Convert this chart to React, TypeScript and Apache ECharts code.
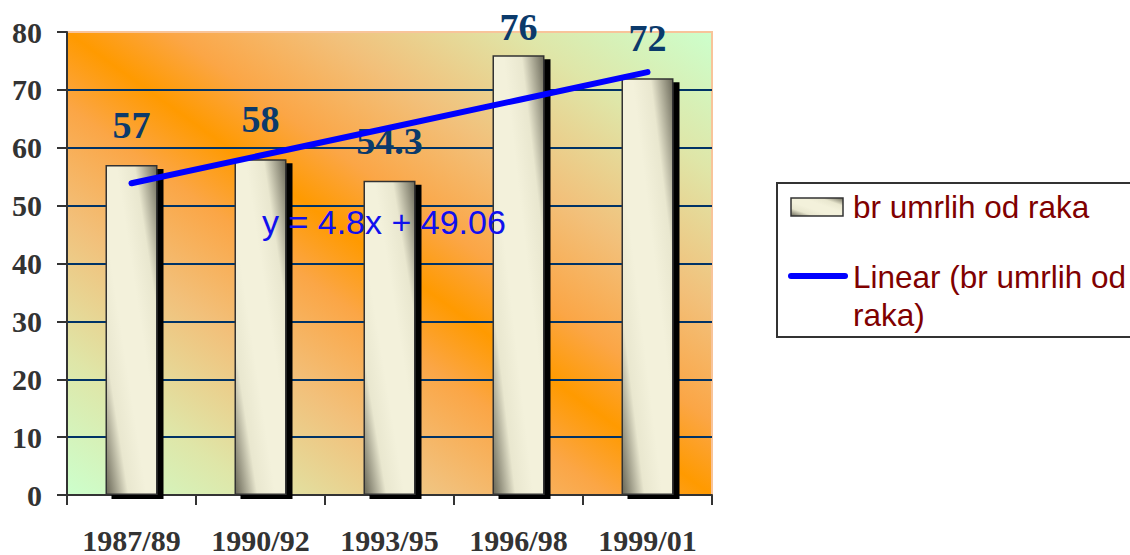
import React, { useEffect, useRef } from "react";
import * as echarts from "echarts";

// Survey periods and recorded cancer deaths
const periods = ["1987/89", "1990/92", "1993/95", "1996/98", "1999/01"];
const deaths = [57, 58, 54.3, 76, 72];

// Linear trend fitted to the deaths series
const trendSlope = 4.8;
const trendIntercept = 49.06;
const trendValues = periods.map((_, i) =>
  Number((trendSlope * (i + 1) + trendIntercept).toFixed(2))
);

const barName = "br umrlih od raka";
const trendName = "Linear (br umrlih od raka)";

const SERIF = "'Liberation Serif', 'Times New Roman', serif";
const SANS = "'Liberation Sans', Arial, sans-serif";

const barFill = () =>
  new echarts.graphic.LinearGradient(0, 1, 1, 0, [
    { offset: 0, color: "#676555" },
    { offset: 0.22, color: "#e9e7cf" },
    { offset: 0.4, color: "#f3f1db" },
    { offset: 0.6, color: "#f3f1db" },
    { offset: 0.78, color: "#e9e7cf" },
    { offset: 1, color: "#6c6a5a" },
  ]);

const plotFill = () =>
  new echarts.graphic.LinearGradient(0, 1, 1, 0, [
    { offset: 0, color: "#ccffcc" },
    { offset: 0.15, color: "#dfe6a8" },
    { offset: 0.3, color: "#f2c07a" },
    { offset: 0.42, color: "#fba646" },
    { offset: 0.5, color: "#ff9a00" },
    { offset: 0.58, color: "#fba646" },
    { offset: 0.7, color: "#f2c07a" },
    { offset: 0.85, color: "#dfe6a8" },
    { offset: 1, color: "#ccffcc" },
  ]);

export default function App() {
  const ref = useRef<HTMLDivElement>(null);

  useEffect(() => {
    if (!ref.current) return;
    const chart = echarts.init(ref.current, null, { renderer: "svg" });

    const gridColors = [
      "#003366", "#003366", "#003366", "#003366", "#003366",
      "#003366", "#003366", "#003366", "rgba(0,0,0,0)",
    ];

    chart.setOption({
      animation: false,
      grid: {
        left: 67,
        right: 418,
        top: 32,
        bottom: 60,
        show: true,
        backgroundColor: plotFill(),
        borderColor: "#f8c49a",
        borderWidth: 2,
      },
      xAxis: {
        type: "category",
        data: periods,
        axisLine: { lineStyle: { color: "#333333", width: 2 } },
        axisTick: { show: true, length: 10, lineStyle: { color: "#333333", width: 2 } },
        axisLabel: {
          margin: 30,
          fontFamily: SERIF,
          fontWeight: "bold",
          fontSize: 30,
          color: "#333333",
        },
      },
      yAxis: {
        type: "value",
        min: 0,
        max: 80,
        interval: 10,
        axisLine: { show: true, lineStyle: { color: "#333333", width: 2 } },
        axisTick: { show: true, length: 10, lineStyle: { color: "#333333", width: 2 } },
        axisLabel: {
          margin: 25,
          fontFamily: SERIF,
          fontWeight: "bold",
          fontSize: 30,
          color: "#333333",
        },
        splitLine: { show: true, lineStyle: { color: gridColors, width: 2 } },
      },
      series: [
        {
          name: barName,
          type: "bar",
          barWidth: 52,
          data: deaths.map((v, i) =>
            i === 3 ? { value: v, label: { distance: 9 } } : v
          ),
          itemStyle: {
            color: barFill(),
            borderColor: "#333333",
            borderWidth: 1.5,
            shadowColor: "#000000",
            shadowBlur: 0,
            shadowOffsetX: 6,
            shadowOffsetY: 4,
          },
          label: {
            show: true,
            position: "top",
            distance: 21,
            fontFamily: SERIF,
            fontWeight: "bold",
            fontSize: 38,
            color: "#0b3a6b",
          },
          z: 2,
        },
        {
          name: trendName,
          type: "line",
          data: trendValues,
          symbol: "none",
          lineStyle: { color: "#0000ff", width: 6, cap: "round" },
          z: 5,
        },
      ],
      graphic: [
        {
          type: "text",
          z: 100,
          style: {
            x: 262,
            y: 222,
            text: `y = ${trendSlope}x + ${trendIntercept}`,
            font: `34px ${SANS}`,
            fill: "#1010ee",
            verticalAlign: "middle",
          },
        },
        {
          type: "rect",
          shape: { x: 777, y: 183, width: 380, height: 154 },
          style: { fill: "#ffffff", stroke: "#333333", lineWidth: 2 },
        },
        {
          type: "rect",
          shape: { x: 791, y: 198, width: 52, height: 18 },
          style: { fill: barFill(), stroke: "#333333", lineWidth: 1.5 },
        },
        {
          type: "text",
          style: {
            x: 853,
            y: 207,
            text: barName,
            font: `31.5px ${SANS}`,
            fill: "#800000",
            verticalAlign: "middle",
          },
        },
        {
          type: "line",
          shape: { x1: 791, y1: 276, x2: 845, y2: 276 },
          style: { stroke: "#0000ff", lineWidth: 6, lineCap: "round" },
        },
        {
          type: "text",
          style: {
            x: 853,
            y: 277,
            text: "Linear (br umrlih od",
            font: `31.5px ${SANS}`,
            fill: "#800000",
            verticalAlign: "middle",
          },
        },
        {
          type: "text",
          style: {
            x: 853,
            y: 315,
            text: "raka)",
            font: `31.5px ${SANS}`,
            fill: "#800000",
            verticalAlign: "middle",
          },
        },
      ],
    });

    return () => chart.dispose();
  }, []);

  return (
    <div
      ref={ref}
      style={{ position: "fixed", left: 0, top: 0, width: 1130, height: 555, background: "#ffffff" }}
    />
  );
}
